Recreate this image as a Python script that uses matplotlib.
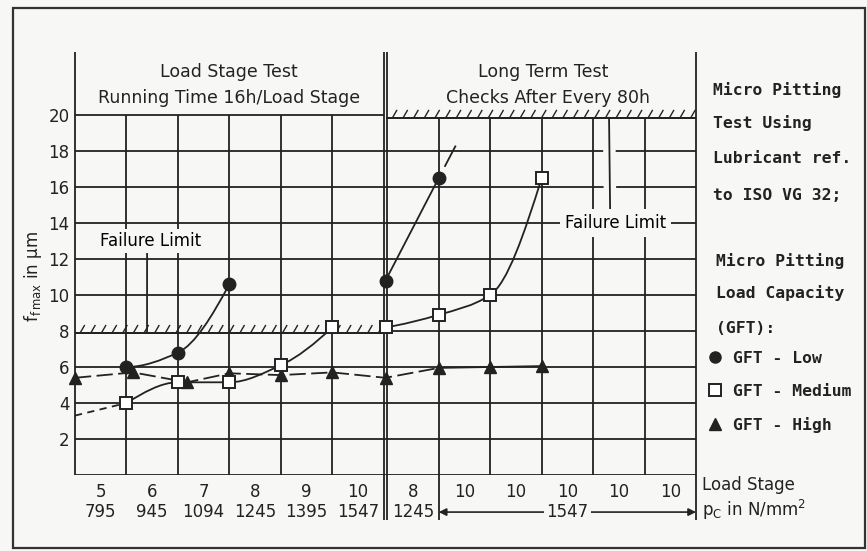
import numpy as np
import matplotlib
matplotlib.use('Agg')
import matplotlib.pyplot as plt
import matplotlib.patheffects as pe
from matplotlib.path import Path
from matplotlib.patches import PathPatch, Rectangle
from matplotlib.lines import Line2D

INK = '#222222'
BG = '#f7f7f5'
G = 0.07                      # gap of the double line between the two test phases
MID = 6 + G / 2

# grid columns: load stage test (left) and long term test (right)
left_cols = np.arange(0, 7)
right_cols = 6 + G + np.arange(0, 7)

stage_labels = ['5', '6', '7', '8', '9', '10', '8', '10', '10', '10', '10', '10']
pressure_labels = ['795', '945', '1094', '1245', '1395', '1547', '1245']
long_pressure = '1547'
yticks = [2, 4, 6, 8, 10, 12, 14, 16, 18, 20]

# GFT - Low
low_left_x = [1, 2, 3]
low_left_y = [6.0, 6.8, 10.6]
low_right_x = [MID, 7.07]
low_right_y = [10.8, 16.5]
low_trend_x = [7.07, 7.40]
low_trend_y = [16.5, 18.3]

# GFT - Medium
med_start_x = [0, 1]
med_start_y = [3.3, 4.0]
med_left_x = [1, 2, 3, 4, 5]
med_left_y = [4.0, 5.15, 5.15, 6.1, 8.2]
med_right_x = [MID, 7.07, 8.07, 9.07]
med_right_y = [8.2, 8.9, 10.0, 16.5]

# GFT - High
high_x = [0, 1.13, 2.18, 3, 4, 5, MID, 7.07, 8.07, 9.07]
high_y = [5.4, 5.7, 5.15, 5.65, 5.55, 5.7, 5.4, 5.95, 6.0, 6.05]

fail_left = 7.9
fail_right = 19.85

info_lines = ['Micro Pitting', 'Test Using', 'Lubricant ref.', 'to ISO VG 32;']
info_y = [21.4, 19.55, 17.6, 15.55]
cap_lines = ['Micro Pitting', 'Load Capacity', '(GFT):']
cap_y = [11.9, 10.1, 8.15]


def smooth_path(x, y):
    # monotone cubic (pchip) drawn as bezier segments
    x = np.asarray(x, float)
    y = np.asarray(y, float)
    h = np.diff(x)
    d = np.diff(y) / h
    n = len(x)
    m = np.zeros(n)
    if n == 2:
        m[:] = d[0]
    else:
        for k in range(1, n - 1):
            if d[k - 1] * d[k] > 0:
                w1 = 2 * h[k] + h[k - 1]
                w2 = h[k] + 2 * h[k - 1]
                m[k] = (w1 + w2) / (w1 / d[k - 1] + w2 / d[k])

        def end(h0, h1, d0, d1):
            t = ((2 * h0 + h1) * d0 - h0 * d1) / (h0 + h1)
            if np.sign(t) != np.sign(d0):
                t = 0
            elif np.sign(d0) != np.sign(d1) and abs(t) > abs(3 * d0):
                t = 3 * d0
            return t
        m[0] = end(h[0], h[1], d[0], d[1])
        m[-1] = end(h[-1], h[-2], d[-1], d[-2])
    verts = [(x[0], y[0])]
    codes = [Path.MOVETO]
    for k in range(n - 1):
        verts += [(x[k] + h[k] / 3, y[k] + m[k] * h[k] / 3),
                  (x[k + 1] - h[k] / 3, y[k + 1] - m[k + 1] * h[k] / 3),
                  (x[k + 1], y[k + 1])]
        codes += [Path.CURVE4] * 3
    return Path(verts, codes)


plt.rcParams['font.family'] = ['DejaVu Sans']
plt.rcParams['font.size'] = 12

fig = plt.figure(figsize=(8.67, 5.51), dpi=100, facecolor=BG)
ax = fig.add_axes([75 / 867, 1 - 475 / 551, 621 / 867, 423 / 551])
ax.set_facecolor(BG)
ax.set_xlim(0, 12 + G)
ax.set_ylim(0, 23.5)
for s in ax.spines.values():
    s.set_visible(False)

lw = 1.3
# horizontal grid
ax.hlines([y for y in yticks if y not in (8, 20)], 0, 12 + G, color=INK, lw=lw, zorder=1)
ax.hlines(8, right_cols[0], right_cols[-1], color=INK, lw=lw, zorder=1)
ax.hlines(20, 0, 6, color=INK, lw=lw, zorder=1)
ax.hlines(0, 0, 12 + G, color=INK, lw=lw, zorder=1)
# vertical grid
ax.vlines(left_cols[1:6], 0, 20, color=INK, lw=lw, zorder=1)
ax.vlines(right_cols[2:6], 0, fail_right, color=INK, lw=lw, zorder=1)
ax.vlines(right_cols[1], -2.5, fail_right, color=INK, lw=lw, zorder=1, clip_on=False)
ax.vlines([6, 6 + G, right_cols[-1]], -2.5, 23.5, color=INK, lw=lw, zorder=1, clip_on=False)
ax.vlines(0, 0, 23.5, color=INK, lw=lw, zorder=1, clip_on=False)

# failure limits (hatched)
hatch = [pe.withTickedStroke(angle=60, spacing=7.5, length=0.8, linewidth=1.0), pe.Normal()]
ax.plot([0, 6], [fail_left, fail_left], color=INK, lw=lw, path_effects=hatch, zorder=3.5)
ax.plot([right_cols[0], right_cols[-1]], [fail_right, fail_right], color=INK, lw=lw,
        path_effects=hatch, zorder=3.5)

halo = [pe.Stroke(linewidth=9, foreground=BG), pe.Normal()]
tb = dict(boxstyle='square,pad=0.2', fc=BG, ec='none')
ax.annotate('Failure Limit', xy=(1.40, fail_left), xytext=(1.46, 13.0),
            ha='center', va='center', bbox=tb, zorder=3,
            arrowprops=dict(arrowstyle='-', color=INK, lw=lw, relpos=(0.47, 0.0),
                            shrinkA=0, shrinkB=0))
ax.annotate('Failure Limit', xy=(10.38, fail_right), xytext=(10.5, 14.0),
            ha='center', va='center', bbox=dict(boxstyle='square,pad=0.3', fc=BG, ec='none'),
            zorder=3,
            arrowprops=dict(arrowstyle='-', color=INK, lw=lw, relpos=(0.45, 1.0),
                            shrinkA=0, shrinkB=0, path_effects=halo))

# curves
for xs, ys in [(low_left_x, low_left_y), (low_right_x, low_right_y),
               (med_left_x, med_left_y), (med_right_x, med_right_y)]:
    ax.add_patch(PathPatch(smooth_path(xs, ys), fill=False, ec=INK, lw=1.3, zorder=4))
ax.plot(low_trend_x, low_trend_y, color=INK, lw=1.3, linestyle=(20, (20, 7)), zorder=4)
ax.plot(med_start_x, med_start_y, color=INK, lw=1.3, linestyle=(0, (4, 3)), zorder=4)
ax.plot(high_x[:8], high_y[:8], color=INK, lw=1.3, linestyle=(0, (9, 3)), zorder=4)
ax.plot(high_x[7:], high_y[7:], color=INK, lw=1.3, zorder=4)

# markers
ax.plot(high_x, high_y, '^', ms=8, color=INK, ls='none', zorder=5, clip_on=False)
ax.plot(low_left_x + low_right_x, low_left_y + low_right_y, 'o', ms=9, color=INK,
        ls='none', zorder=6)
ax.plot(med_left_x + med_right_x, med_left_y + med_right_y, 's', ms=9, mfc='white',
        mec=INK, mew=1.4, ls='none', zorder=6)

# axis ticks
ax.set_yticks(yticks)
ax.set_yticklabels([str(v) for v in yticks])
centers = list(left_cols[:6] + 0.5) + list(right_cols[:6] + 0.5)
ax.set_xticks(centers)
ax.set_xticklabels(stage_labels)
ax.tick_params(length=0, colors=INK, labelsize=12)
ax.tick_params(axis='x', pad=6)
ax.tick_params(axis='y', pad=4)
for c, lab in zip(centers[:7], pressure_labels):
    ax.text(c, -2.06, lab, ha='center', va='center', color=INK, clip_on=False)
ax.annotate('', xy=(right_cols[1], -2.06), xytext=(right_cols[-1], -2.06),
            arrowprops=dict(arrowstyle='<|-|>', color=INK, lw=1.2, shrinkA=0, shrinkB=0,
                            mutation_scale=11), annotation_clip=False)
ax.text((right_cols[1] + right_cols[-1]) / 2, -2.06, long_pressure, ha='center', va='center',
        color=INK, bbox=dict(boxstyle='square,pad=0.15', fc=BG, ec='none'), clip_on=False)

ax.set_ylabel(r'$\mathregular{f_{f\,max}}$ in $\mathregular{\mu}$m', color=INK, fontsize=12)
ax.yaxis.set_label_coords(-0.05, 0.47)

# headers
ax.text(3.0, 22.4, 'Load Stage Test', ha='center', va='center', color=INK, fontsize=12.5)
ax.text(3.0, 20.95, 'Running Time 16h/Load Stage', ha='center', va='center', color=INK,
        fontsize=12.5)
ax.text(9.1, 22.4, 'Long Term Test', ha='center', va='center', color=INK, fontsize=12.5)
ax.text(9.2, 20.95, 'Checks After Every 80h', ha='center', va='center', color=INK,
        fontsize=12.5)

# right hand description
mono = dict(family='DejaVu Sans Mono', weight='bold', size=11.8)
for t, y in zip(info_lines, info_y):
    ax.text(12.4, y, t, ha='left', va='center', color=INK, clip_on=False, **mono)
for t, y in zip(cap_lines, cap_y):
    ax.text(12.45, y, t, ha='left', va='center', color=INK, clip_on=False, **mono)

handles = [Line2D([], [], marker='o', ms=8, color=INK, ls='none'),
           Line2D([], [], marker='s', ms=8, mfc='white', mec=INK, mew=1.4, ls='none'),
           Line2D([], [], marker='^', ms=8, color=INK, ls='none')]
ax.legend(handles, ['GFT - Low', 'GFT - Medium', 'GFT - High'], loc='upper left',
          bbox_to_anchor=(1.018, 0.293), frameon=False, borderpad=0, borderaxespad=0,
          handlelength=0.95, handletextpad=0.65, labelspacing=1.1,
          prop=dict(family='DejaVu Sans Mono', weight='bold', size=11.8), labelcolor=INK)

ax.text(12.19, -0.55, 'Load Stage', ha='left', va='center', color=INK, clip_on=False)
ax.text(12.19, -1.95, r'$\mathregular{p_C}$ in N/mm$\mathregular{^2}$', ha='left',
        va='center', color=INK, clip_on=False)

# outer frame
fig.patches.append(Rectangle((13 / 867, 3 / 551), 852 / 867, 540 / 551, fill=False,
                             ec='#333333', lw=1.6, transform=fig.transFigure))

fig.savefig('out.png', dpi=100, facecolor=BG)
